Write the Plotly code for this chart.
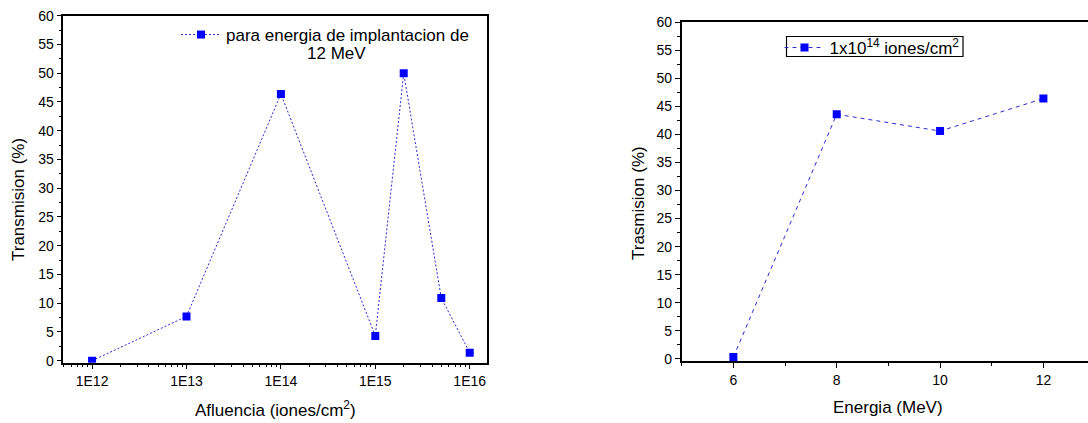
import plotly.graph_objects as go

# Transmission vs. fluence at 12 MeV implantation energy
fluence = [1e12, 1e13, 1e14, 1e15, 2e15, 5e15, 1e16]
trans_fluence = [0.0, 7.7, 46.4, 4.3, 50.0, 10.9, 1.4]
fluence_ticks = [1e12, 1e13, 1e14, 1e15, 1e16]
fluence_ticktext = ["1E12", "1E13", "1E14", "1E15", "1E16"]

# Transmission vs. energy at a fluence of 1x10^14 ions/cm^2
energy = [6, 8, 10, 12]
trans_energy = [0.3, 43.6, 40.6, 46.4]

FONT = "Liberation Sans, Arial, sans-serif"
W, H = 1088, 423
LINE_COLOR = "#2a2ad0"
MARK_COLOR = "#0000ff"
TXT = 17


def px_x(v):
    return v / W


def px_y(v):
    return 1 - v / H


fig = go.Figure()

fig.add_trace(go.Scatter(
    x=fluence, y=trans_fluence, mode="lines+markers",
    name="para energia de implantacion de",
    line=dict(color=LINE_COLOR, width=1, dash="2px,2px"),
    marker=dict(symbol="square", size=8, color=MARK_COLOR),
    xaxis="x", yaxis="y", legend="legend",
))

fig.add_trace(go.Scatter(
    x=energy, y=trans_energy, mode="lines+markers",
    name="1x10<sup>14</sup> iones/cm<sup>2</sup>",
    line=dict(color=LINE_COLOR, width=1, dash="4px,4px"),
    marker=dict(symbol="square", size=8, color=MARK_COLOR),
    xaxis="x2", yaxis="y2", legend="legend2",
))

axis_common = dict(
    showgrid=False, zeroline=False, showline=True, linecolor="black",
    linewidth=1.5, ticks="outside", ticklen=5, tickwidth=1.2,
    tickcolor="black", automargin=False,
    tickfont=dict(family=FONT, size=14, color="black"),
)

y_common = dict(
    axis_common, tick0=0, dtick=5,
    minor=dict(ticks="outside", ticklen=3, dtick=2.5, tickcolor="black"),
)

fig.update_layout(
    width=W, height=H, autosize=False,
    margin=dict(l=0, r=0, t=0, b=0, pad=0, autoexpand=False),
    paper_bgcolor="white", plot_bgcolor="white",
    font=dict(family=FONT, color="black"),
    xaxis=dict(
        axis_common, type="log", domain=[px_x(63.3), px_x(486.7)],
        range=[11.695, 16.18], tickvals=fluence_ticks,
        ticktext=fluence_ticktext, mirror=True,
        minor=dict(ticks="outside", ticklen=3, dtick="D1", tickcolor="black"),
        anchor="y",
    ),
    yaxis=dict(y_common, range=[-0.35, 60],
               domain=[px_y(362.7), px_y(15.7)], mirror=True, anchor="x"),
    xaxis2=dict(
        axis_common, domain=[px_x(681.7), 1.0], range=[5, 12.863],
        tick0=6, dtick=2, mirror=True,
        minor=dict(ticks="outside", ticklen=3, dtick=1, tickcolor="black"),
        anchor="y2",
    ),
    yaxis2=dict(y_common, range=[-0.4, 60],
                domain=[px_y(361), px_y(22.3)], anchor="x2"),
    legend=dict(
        x=px_x(176), y=px_y(17), xanchor="left", yanchor="top",
        bgcolor="rgba(0,0,0,0)", borderwidth=0, itemwidth=40,
        font=dict(family=FONT, size=TXT, color="black"),
    ),
    legend2=dict(
        x=px_x(779.5), y=px_y(30), xanchor="left", yanchor="top",
        bgcolor="rgba(0,0,0,0)", borderwidth=0, itemwidth=40,
        font=dict(family=FONT, size=TXT, color="black"),
    ),
    showlegend=True,
    # frame around the second legend
    shapes=[dict(type="rect", xref="paper", yref="paper",
                 x0=px_x(786.5), x1=px_x(963), y0=px_y(56.5), y1=px_y(36.5),
                 line=dict(color="black", width=1.2),
                 fillcolor="rgba(0,0,0,0)", layer="below")],
)

annotations = [
    dict(text="12 MeV", x=px_x(336.7), y=px_y(53.3), xanchor="center",
         yanchor="middle"),
    dict(text="Transmision (%)", x=px_x(18), y=px_y(200), textangle=-90,
         xanchor="center", yanchor="middle"),
    dict(text="Afluencia (iones/cm<sup>2</sup>)", x=px_x(275), y=px_y(409),
         xanchor="center", yanchor="middle"),
    dict(text="Trasmision (%)", x=px_x(638), y=px_y(203), textangle=-90,
         xanchor="center", yanchor="middle"),
    dict(text="Energia (MeV)", x=px_x(888), y=px_y(407),
         xanchor="center", yanchor="middle"),
]
for a in annotations:
    a.update(xref="paper", yref="paper", showarrow=False,
             font=dict(family=FONT, color="black", size=TXT))
fig.update_layout(annotations=annotations)

fig.write_html("out.html")
